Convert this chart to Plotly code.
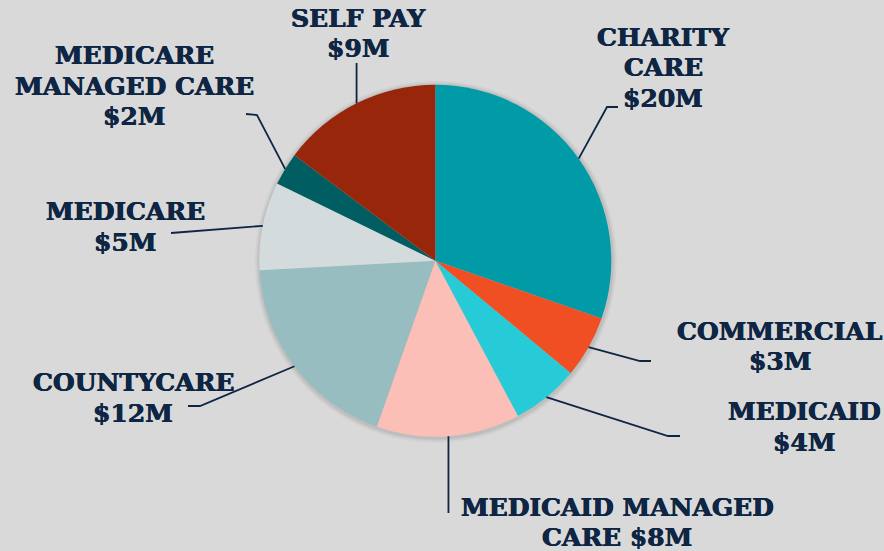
import math
import plotly.graph_objects as go

# ---------------- data ----------------
categories = ["CHARITY CARE", "COMMERCIAL", "MEDICAID", "MEDICAID MANAGED CARE",
              "COUNTYCARE", "MEDICARE", "MEDICARE MANAGED CARE", "SELF PAY"]
values_musd = [19.1, 3.6, 3.9, 8.3, 11.8, 5.1, 1.9, 9.3]
amount_labels = ["$20M", "$3M", "$4M", "$8M", "$12M", "$5M", "$2M", "$9M"]
label_lines = [["CHARITY", "CARE", "$20M"], ["COMMERCIAL", "$3M"], ["MEDICAID", "$4M"],
               ["MEDICAID MANAGED", "CARE $8M"], ["COUNTYCARE", "$12M"], ["MEDICARE", "$5M"],
               ["MEDICARE", "MANAGED CARE", "$2M"], ["SELF PAY", "$9M"]]

# ---------------- styles / layout ----------------
colors = ["#019ba8", "#f04e23", "#27cbd7", "#fbbfb7", "#97bdc0", "#d4dbdd", "#005e63", "#97260b"]
W, H = 884, 551
BG = "#d9d9d9"
TXT = "#0e2643"
FONT = "DejaVu Serif"
FSIZE = 25
LINE_GAP = 30.8
CX, CY, R = 435.3, 260.7, 176.0

# label block centres (px) and leader-line outer points (px)
label_pos = [(663, 68), (780, 346.5), (804, 427), (617, 522.5),
             (133, 398), (125, 227), (134, 86), (358, 33.5)]
leader_outer = [[(607, 107), (618, 107)],
                [(640, 361), (651, 361)],
                [(668, 436), (680, 436)],
                [(None, 513)],
                [(200, 406), (188, 406)],
                [(171, 233)],
                [(257, 115), (246, 114)],
                [(None, 63)]]


def px(x):
    return x / W


def py(y):
    return 1 - y / H


fig = go.Figure()
fig.add_trace(go.Pie(
    labels=categories, values=values_musd, sort=False, direction="clockwise",
    rotation=0, textinfo="none", hoverinfo="skip",
    marker=dict(colors=colors, line=dict(width=0)),
    domain=dict(x=[px(CX - R), px(CX + R)], y=[py(CY + R), py(CY - R)]),
    showlegend=False,
))

shapes = []
# soft shadow
for rr, a in [(181, 0.03), (179.5, 0.04), (178, 0.05)]:
    shapes.append(dict(type="circle", xref="paper", yref="paper", layer="below",
                       x0=px(CX + 0.5 - rr), x1=px(CX + 0.5 + rr),
                       y0=py(CY + 1 + rr), y1=py(CY + 1 - rr),
                       fillcolor=f"rgba(0,0,0,{a})", line=dict(width=0)))

total = sum(values_musd)
cum = 0.0
annotations = []
for i, v in enumerate(values_musd):
    mid = (cum + v / 2) / total * 2 * math.pi
    cum += v
    ax = CX + R * math.sin(mid)
    ay = CY - R * math.cos(mid)
    pts = [(ax, ay)]
    for (x, y) in leader_outer[i]:
        pts.append((ax if x is None else x, y))
    path = "M " + " L ".join(f"{px(x)},{py(y)}" for x, y in pts)
    shapes.append(dict(type="path", xref="paper", yref="paper", path=path,
                       line=dict(color=TXT, width=1.8), layer="above"))
    lx, ly = label_pos[i]
    lines = label_lines[i]
    n = len(lines)
    for k, t in enumerate(lines):
        yy = ly + (k - (n - 1) / 2) * LINE_GAP
        annotations.append(dict(x=px(lx), y=py(yy), xref="paper", yref="paper",
                                text=t, showarrow=False,
                                xanchor="center", yanchor="middle", align="center",
                                font=dict(family=FONT, size=FSIZE, color=TXT, weight="bold",
                                          shadow=f"0.4px 0 0 {TXT}, -0.4px 0 0 {TXT}")))

fig.update_layout(width=W, height=H, margin=dict(l=0, r=0, t=0, b=0),
                  paper_bgcolor=BG, plot_bgcolor=BG,
                  shapes=shapes, annotations=annotations)
fig.write_html("out.html", config=dict(displayModeBar=False),
               post_script="document.body.style.margin='0';document.body.style.overflow='hidden';")
